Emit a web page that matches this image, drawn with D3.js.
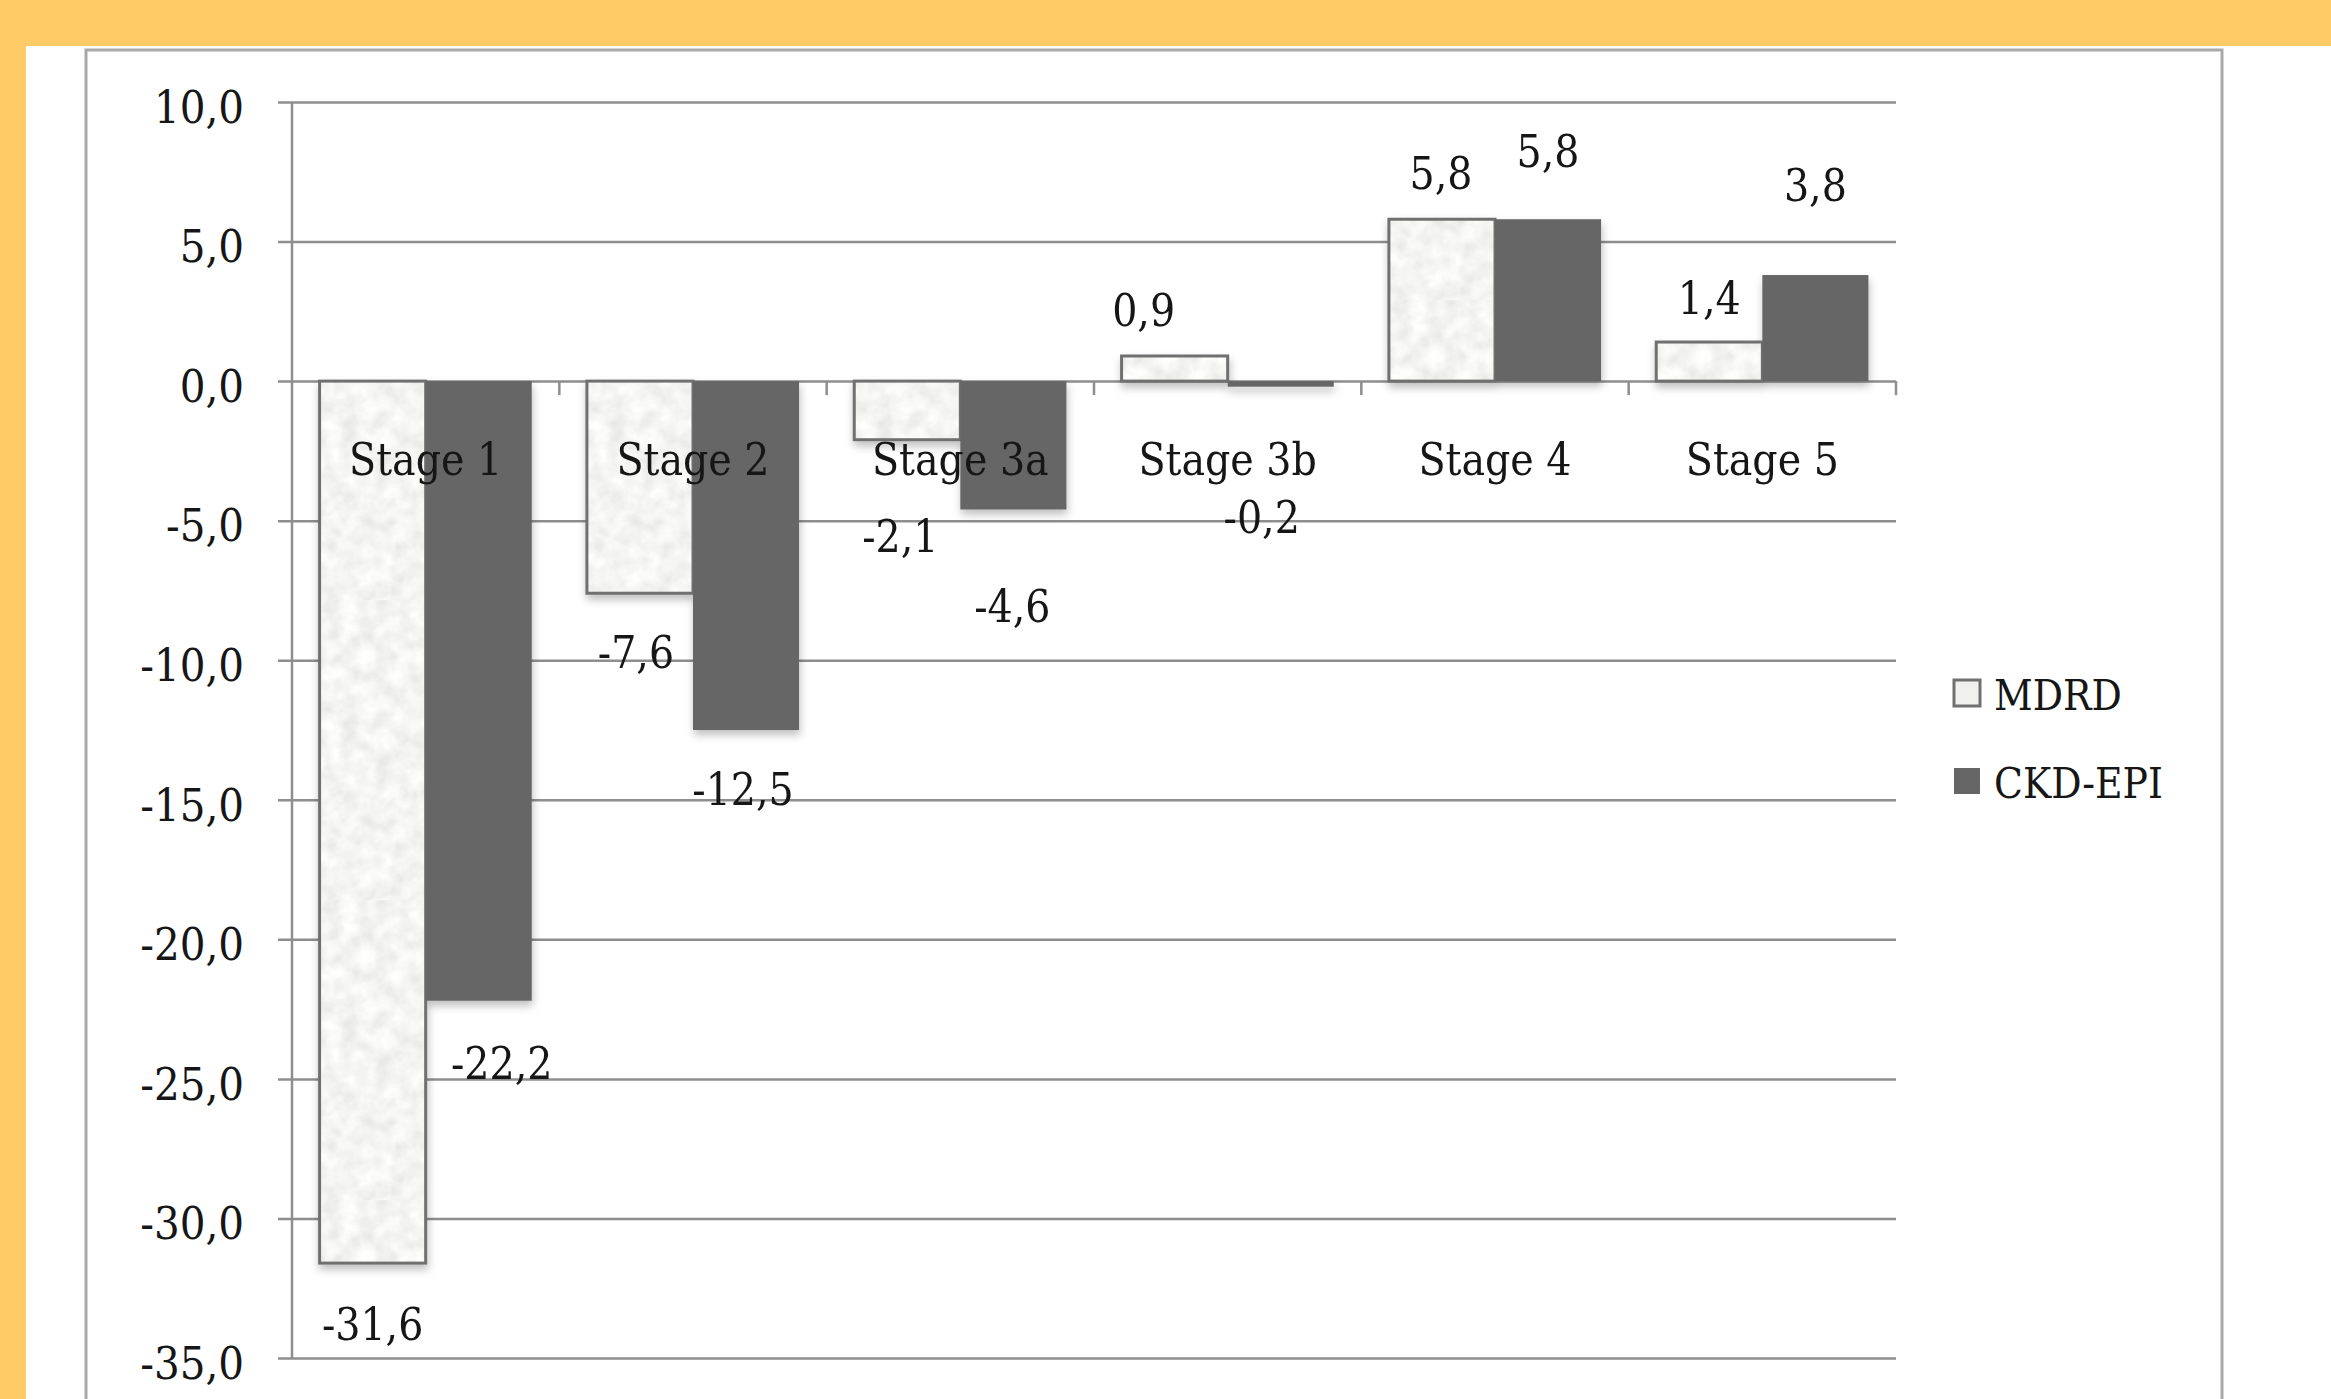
<!DOCTYPE html>
<html>
<head>
    <meta charset="utf-8">
    <script src="https://d3js.org/d3.v7.min.js"></script>
    <style>
        html, body { margin: 0; padding: 0; background: #fff; overflow: hidden; }
        svg text { font-family: "DejaVu Serif Condensed", "DejaVu Serif", serif; font-stretch: condensed; fill: #161616; }
    </style>
</head>
<body>
    <svg id="chart"></svg>

    <script>
        // Chart data
        const stages = ["Stage 1", "Stage 2", "Stage 3a", "Stage 3b", "Stage 4", "Stage 5"];
        const seriesNames = ["MDRD", "CKD-EPI"];
        const mdrdValues = [-31.6, -7.6, -2.1, 0.9, 5.8, 1.4];
        const ckdEpiValues = [-22.2, -12.5, -4.6, -0.2, 5.8, 3.8];
        const yTickValues = [-35, -30, -25, -20, -15, -10, -5, 0, 5, 10];

        // Small hand nudges for the value labels, as they sit in the original [dx, dy]
        const mdrdNudge = [[0, 1], [-4, -1], [-7, 36], [-31, 0], [-1, 0], [0, 2]];
        const ckdEpiNudge = [[23, 2], [-3, -1], [-1, 36], [-19, 70], [0, -22], [0, -44]];

        const width = 2331;
        const height = 1399;

        const svg = d3.select("#chart")
            .attr("width", width)
            .attr("height", height);

        // Comma decimals, plain hyphen minus
        const locale = d3.formatLocale({ decimal: ",", thousands: ".", grouping: [3], currency: ["", ""], minus: "-" });
        const fmt = locale.format(".1f");

        // Scales
        const plotLeft = 292, plotRight = 1896;
        const y = d3.scaleLinear().domain([-35, 10]).range([1358, 102]);
        const x0 = d3.scaleBand().domain(stages).range([plotLeft, plotRight]).padding(0);
        const x1 = d3.scaleBand().domain(seriesNames).range([0, x0.bandwidth()])
            .paddingInner(0).paddingOuter(0.26);

        // Defs: paper texture for MDRD, soft shadow under bars
        const defs = svg.append("defs");
        const paper = defs.append("filter").attr("id", "paperNoise")
            .attr("x", 0).attr("y", 0).attr("width", 1).attr("height", 1);
        paper.append("feTurbulence").attr("type", "fractalNoise")
            .attr("baseFrequency", 0.06).attr("numOctaves", 3).attr("seed", 4);
        paper.append("feColorMatrix").attr("type", "matrix")
            .attr("values", "0.3 0 0 0 0.76  0.3 0 0 0 0.76  0.3 0 0 0 0.75  0 0 0 0 1");
        const pattern = defs.append("pattern").attr("id", "paper")
            .attr("patternUnits", "userSpaceOnUse").attr("width", 300).attr("height", 300);
        pattern.append("rect").attr("width", 300).attr("height", 300)
            .attr("fill", "#eeeeec").attr("filter", "url(#paperNoise)");

        const shadow = defs.append("filter").attr("id", "shadow")
            .attr("x", "-20%").attr("y", "-20%").attr("width", "140%").attr("height", "140%");
        shadow.append("feDropShadow").attr("dx", 1).attr("dy", 5)
            .attr("stdDeviation", 4).attr("flood-color", "#000").attr("flood-opacity", 0.25);

        // Page background: orange border strips, then the chart frame
        svg.append("rect").attr("width", width).attr("height", height).attr("fill", "#fff");
        svg.append("rect").attr("x", 0).attr("y", 0).attr("width", width).attr("height", 46).attr("fill", "#fecb66");
        svg.append("rect").attr("x", 0).attr("y", 0).attr("width", 26).attr("height", height).attr("fill", "#fecb66");
        svg.append("rect").attr("x", 86).attr("y", 50).attr("width", 2222 - 86).attr("height", 1400)
            .attr("fill", "#fff").attr("stroke", "#a9a9a9").attr("stroke-width", 3);

        // Y axis with gridlines
        const gridStart = plotLeft - 14;
        const yAxis = d3.axisLeft(y)
            .tickValues(yTickValues)
            .tickFormat(fmt)
            .tickSize(-(plotRight - gridStart))
            .tickPadding(34);

        const yAxisG = svg.append("g")
            .attr("transform", `translate(${gridStart},0)`)
            .call(yAxis);
        yAxisG.select(".domain").remove();
        yAxisG.selectAll(".tick line").attr("stroke", "#8e8e8e").attr("stroke-width", 2.5);
        yAxisG.selectAll(".tick text")
            .attr("font-size", 45)
            .attr("dy", "0.45em")
            .style("font-family", "\"DejaVu Serif Condensed\", \"DejaVu Serif\", serif");

        // Vertical axis line
        svg.append("line")
            .attr("x1", plotLeft).attr("x2", plotLeft)
            .attr("y1", y(10)).attr("y2", y(-35))
            .attr("stroke", "#8e8e8e").attr("stroke-width", 2.5);

        // Category ticks on the zero line
        svg.append("g").selectAll("line")
            .data(stages)
            .join("line")
            .attr("x1", d => x0(d) + x0.bandwidth())
            .attr("x2", d => x0(d) + x0.bandwidth())
            .attr("y1", y(0)).attr("y2", y(0) + 14)
            .attr("stroke", "#8e8e8e").attr("stroke-width", 2.5);

        // Bars
        const rows = stages.map((s, i) => ({
            stage: s,
            values: [
                { key: "MDRD", value: mdrdValues[i], nudge: mdrdNudge[i] },
                { key: "CKD-EPI", value: ckdEpiValues[i], nudge: ckdEpiNudge[i] }
            ]
        }));

        const groups = svg.append("g").attr("filter", "url(#shadow)")
            .selectAll("g")
            .data(rows)
            .join("g")
            .attr("transform", d => `translate(${x0(d.stage)},0)`);

        groups.selectAll("rect")
            .data(d => d.values)
            .join("rect")
            .attr("x", d => x1(d.key))
            .attr("y", d => y(Math.max(0, d.value)))
            .attr("width", x1.bandwidth())
            .attr("height", d => Math.abs(y(d.value) - y(0)))
            .attr("fill", d => d.key === "MDRD" ? "url(#paper)" : "#666666")
            .attr("stroke", d => d.key === "MDRD" ? "#707070" : "none")
            .attr("stroke-width", 3);

        // Category labels (drawn over the bars)
        svg.append("g").selectAll("text")
            .data(stages)
            .join("text")
            .attr("x", d => x0(d) + x0.bandwidth() / 2)
            .attr("y", y(0) + 94)
            .attr("text-anchor", "middle")
            .attr("font-size", 44)
            .text(d => d);

        // Value labels
        const labelData = rows.flatMap(r => r.values.map(v => ({ stage: r.stage, ...v })));
        svg.append("g").selectAll("text")
            .data(labelData)
            .join("text")
            .attr("x", d => x0(d.stage) + x1(d.key) + x1.bandwidth() / 2 + d.nudge[0])
            .attr("y", d => y(d.value) + (d.value < 0 ? 76 : -30) + d.nudge[1])
            .attr("text-anchor", "middle")
            .attr("font-size", 44)
            .text(d => fmt(d.value));

        // Legend
        const legend = svg.append("g").attr("transform", "translate(1954,680)");
        const legendItems = legend.selectAll("g")
            .data(seriesNames)
            .join("g")
            .attr("transform", (d, i) => `translate(0,${i * 88})`);
        legendItems.append("rect")
            .attr("width", 26).attr("height", 26)
            .attr("fill", d => d === "MDRD" ? "#f0f0ee" : "#666666")
            .attr("stroke", d => d === "MDRD" ? "#707070" : "none")
            .attr("stroke-width", 3);
        legendItems.append("text")
            .attr("x", 40).attr("y", 30)
            .attr("font-size", 42)
            .text(d => d);
    </script>
</body>
</html>
